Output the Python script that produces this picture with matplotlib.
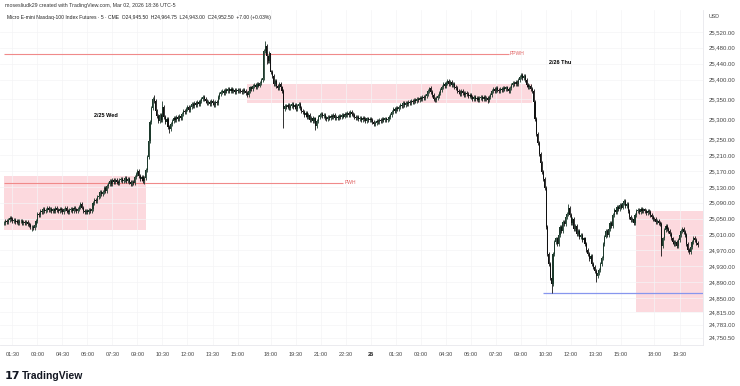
import numpy as np
import pandas as pd
import matplotlib
matplotlib.use("Agg")
import matplotlib.pyplot as plt

plt.rcParams['font.family'] = ['Liberation Sans', 'DejaVu Sans']

# ---- data: MNQ 5 min closes, one row per hour -------------------------------
# session 1: 2/25 01:00 - 16:55
closes_s1 = [
    25040, 25043, 25041, 25046, 25051, 25048, 25044, 25046, 25042, 25045, 25040, 25043,
    25044, 25039, 25042, 25038, 25041, 25036, 25033, 25028, 25030, 25026, 25034, 25045,
    25062, 25058, 25070, 25066, 25074, 25069, 25072, 25078, 25071, 25075, 25068, 25073,
    25070, 25077, 25072, 25068, 25074, 25071, 25066, 25073, 25076, 25070, 25067, 25072,
    25074, 25070, 25076, 25073, 25069, 25075, 25080, 25088, 25078, 25070, 25067, 25069,
    25066, 25071, 25068, 25074, 25090, 25098, 25094, 25104, 25108, 25116, 25111, 25118,
    25126, 25120, 25132, 25138, 25144, 25137, 25146, 25141, 25148, 25143, 25139, 25147,
    25150, 25144, 25148, 25152, 25145, 25149, 25141, 25137, 25143, 25139, 25155, 25163,
    25170, 25158, 25150, 25156, 25145, 25152, 25172, 25205, 25245, 25292, 25328, 25350,
    25345, 25322, 25308, 25296, 25312, 25298, 25330, 25306, 25292, 25300, 25280, 25276,
    25288, 25296, 25304, 25298, 25306, 25301, 25309, 25304, 25314, 25322, 25318, 25326,
    25330, 25324, 25332, 25338, 25334, 25340, 25336, 25343, 25339, 25346, 25350, 25355,
    25350, 25346, 25341, 25344, 25339, 25345, 25342, 25337, 25343, 25340, 25356, 25364,
    25368, 25372, 25366, 25374, 25370, 25376, 25372, 25375, 25371, 25374, 25369, 25373,
    25370, 25374, 25371, 25368, 25373, 25370, 25366, 25360, 25372, 25380, 25376, 25384,
    25386, 25381, 25390, 25385, 25392, 25398, 25404, 25472, 25484, 25458, 25447, 25466,
]
# session 2: 2/25 18:00 - 2/26 16:55
closes_s2 = [
    25420, 25408, 25390, 25396, 25384, 25378, 25388, 25380, 25372, 25326, 25334, 25330,
    25336, 25328, 25333, 25339, 25331, 25335, 25327, 25334, 25338, 25329, 25322, 25318,
    25312, 25316, 25305, 25310, 25298, 25304, 25296, 25302, 25284, 25296, 25305, 25310,
    25314, 25308, 25312, 25304, 25300, 25306, 25302, 25308, 25305, 25310, 25304, 25307,
    25303, 25309, 25305, 25311, 25307, 25313, 25310, 25316, 25312, 25319, 25314, 25310,
    25306, 25302, 25307, 25300, 25304, 25298, 25303, 25300, 25296, 25302, 25299, 25301,
    25297, 25293, 25288, 25291, 25296, 25293, 25298, 25295, 25300, 25297, 25302, 25299,
    25301, 25305, 25310, 25318, 25326, 25322, 25329, 25325, 25331, 25336, 25333, 25340,
    25336, 25342, 25338, 25344, 25341, 25346, 25343, 25349, 25345, 25352, 25348, 25354,
    25350, 25356, 25353, 25358, 25364, 25372, 25378, 25368, 25360, 25352, 25348, 25354,
    25358, 25366, 25374, 25382, 25388, 25384, 25392, 25396, 25389, 25393, 25386, 25390,
    25382, 25378, 25372, 25368, 25364, 25370, 25366, 25362, 25367, 25364, 25359, 25362,
    25356, 25352, 25357, 25350, 25354, 25349, 25353, 25357, 25351, 25355, 25350, 25354,
    25348, 25356, 25362, 25370, 25376, 25372, 25378, 25374, 25370, 25377, 25373, 25379,
    25375, 25380, 25376, 25372, 25378, 25386, 25392, 25389, 25394, 25390, 25398, 25406,
    25412, 25404, 25409, 25398, 25386, 25380, 25384, 25375, 25370, 25344, 25300, 25262,
    25240, 25212, 25190, 25168, 25150, 25128, 25030, 24962, 24935, 24900, 24885, 24962,
    24990, 25000, 24985, 25010, 25028, 25020, 25042, 25036, 25055, 25062, 25078, 25060,
    25040, 25048, 25025, 25032, 25012, 25020, 25004, 25010, 24995, 25000, 24985, 24970,
    24960, 24948, 24955, 24935, 24928, 24918, 24905, 24912, 24920, 24935, 24950, 24985,
    25005, 25018, 25010, 25025, 25040, 25032, 25060, 25072, 25066, 25080, 25074, 25085,
    25078, 25090, 25094, 25082, 25088, 25070, 25055, 25046, 25050, 25040, 25058, 25068,
    25072, 25066, 25074, 25068, 25073, 25070, 25064, 25070, 25066, 25060, 25054, 25050,
]
# session 3: 2/26 18:00 - 20:35
closes_s3 = [
    25048, 25042, 25045, 25040, 25036, 24980, 25000, 25022, 25032, 25024, 25018, 25012,
    25000, 24992, 24985, 24990, 24982, 24996, 25008, 25020, 25024, 25016, 25010, 24985,
    24972, 24965, 24978, 24990, 25002, 24996, 24988, 24984,
]
first_open = 25038
wick = 5   # typical wick beyond the body, points

spike_high = {"2026-02-25 10:00": 25360, "2026-02-25 10:30": 25345,
              "2026-02-25 16:40": 25496, "2026-02-25 18:00": 25425,
              "2026-02-26 03:30": 25382, "2026-02-26 09:05": 25416,
              "2026-02-26 11:50": 25088, "2026-02-26 15:10": 25100}
spike_low = {"2026-02-25 02:40": 25020, "2026-02-25 09:25": 25136,
             "2026-02-25 10:55": 25265, "2026-02-25 16:45": 25440,
             "2026-02-25 18:45": 25278, "2026-02-25 20:40": 25273,
             "2026-02-26 07:00": 25340, "2026-02-26 10:50": 24864,
             "2026-02-26 13:30": 24891, "2026-02-26 18:25": 24955}

# levels and zones
ppwh, pwh, low_line = 25465, 25140, 24863
zones = [("2026-02-25 01:00", "2026-02-25 09:30", 25022, 25158),
         ("2026-02-25 15:35", "2026-02-26 09:40", 25341, 25389),
         ("2026-02-26 15:55", None, 24816, 25070)]

price_ticks = [25520, 25480, 25440, 25400, 25350, 25300, 25250, 25210, 25170, 25130,
               25090, 25050, 25010, 24970, 24930, 24890, 24850, 24815, 24783, 24750.5]
tick_times = ["2026-02-25 01:30", "2026-02-25 03:00", "2026-02-25 04:30", "2026-02-25 06:00",
              "2026-02-25 07:30", "2026-02-25 09:00", "2026-02-25 10:30", "2026-02-25 12:00",
              "2026-02-25 13:30", "2026-02-25 15:00", "2026-02-25 18:00", "2026-02-25 19:30",
              "2026-02-25 21:00", "2026-02-25 22:30", "2026-02-26 00:00", "2026-02-26 01:30",
              "2026-02-26 03:00", "2026-02-26 04:30", "2026-02-26 06:00", "2026-02-26 07:30",
              "2026-02-26 09:00", "2026-02-26 10:30", "2026-02-26 12:00", "2026-02-26 13:30",
              "2026-02-26 15:00", "2026-02-26 18:00", "2026-02-26 19:30"]

# ---- build OHLC -------------------------------------------------------------
times = pd.DatetimeIndex(
    list(pd.date_range("2026-02-25 01:00", "2026-02-25 16:55", freq="5min")) +
    list(pd.date_range("2026-02-25 18:00", "2026-02-26 16:55", freq="5min")) +
    list(pd.date_range("2026-02-26 18:00", "2026-02-26 20:35", freq="5min")))
closes = np.array(closes_s1 + closes_s2 + closes_s3, dtype=float)
opens = np.r_[first_open, closes[:-1]]
highs = np.maximum(opens, closes) + wick
lows = np.minimum(opens, closes) - wick
for t, v in spike_high.items():
    highs[times.get_loc(pd.Timestamp(t))] = v
for t, v in spike_low.items():
    lows[times.get_loc(pd.Timestamp(t))] = v
xs = np.arange(len(times))


def pos(t):
    return times.searchsorted(pd.Timestamp(t))


# ---- plot ------------------------------------------------------------------
fig = plt.figure(figsize=(7.4, 3.86), dpi=100)
ax = fig.add_axes([0.0, 41 / 386, 703 / 740, 335 / 386])
xmin, xmax = -2.9, 502.9
ymin, ymax = 24732, 25575

for t0, t1, lo, hi in zones:
    x0 = pos(t0)
    x1 = xmax if t1 is None else pos(t1)
    ax.fill_between([x0, x1], lo, hi, color="#fcd9de", lw=0, zorder=1)

ax.hlines(ppwh, 0, pos("2026-02-26 08:15"), color="#f08a8a", lw=0.8, zorder=2)
ax.text(pos("2026-02-26 08:20"), ppwh, "PPWH", color="#e06060", fontsize=3.6,
        va="center", ha="left", zorder=3)
ax.hlines(pwh, 0, pos("2026-02-25 22:20"), color="#f08a8a", lw=0.8, zorder=2)
ax.text(pos("2026-02-25 22:25"), pwh, "PWH", color="#e06060", fontsize=3.6,
        va="center", ha="left", zorder=3)
ax.hlines(low_line, pos("2026-02-26 10:20"), xmax, color="#8796ee", lw=0.9, zorder=2)

up = closes >= opens
col = np.where(up, "#1d3a2c", "#111111")
ax.vlines(xs, lows, highs, colors=col, lw=0.6, zorder=4)
body = np.maximum(np.abs(closes - opens), 1.0)
ax.bar(xs, body, bottom=np.minimum(opens, closes), width=0.78, color=col,
       lw=0, zorder=5)

ax.text(pos("2026-02-25 06:25"), 25309, "2/25 Wed", fontsize=4, fontweight="bold",
        va="center", ha="left")
ax.text(pos("2026-02-26 10:40"), 25442, "2/26 Thu", fontsize=4, fontweight="bold",
        va="center", ha="left")

ax.set_xlim(xmin, xmax)
ax.set_ylim(ymin, ymax)
ax.yaxis.tick_right()
ax.set_yticks(price_ticks)
ax.set_yticklabels([f"{v:,.2f}" for v in price_ticks], fontsize=4.3, color="#444444")
ax.set_xticks([pos(t) for t in tick_times])
xl = []
for t in tick_times:
    ts = pd.Timestamp(t)
    xl.append(str(ts.day) if ts.hour == 0 and ts.minute == 0 else ts.strftime("%H:%M"))
ax.set_xticklabels(xl, fontsize=4.1, color="#444444")
for lab in ax.get_xticklabels():
    if ":" not in lab.get_text():
        lab.set_fontweight("bold")
        lab.set_color("#222222")
ax.tick_params(length=0, pad=5)
ax.tick_params(axis="y", pad=4)
ax.grid(True, color="#f4f4f6", lw=0.5, zorder=0)
for s in ["top", "left"]:
    ax.spines[s].set_visible(False)
ax.spines["right"].set_color("#e8e8ec")
ax.spines["bottom"].set_color("#e8e8ec")
ax.spines["right"].set_linewidth(0.6)
ax.spines["bottom"].set_linewidth(0.6)

fig.text(5 / 740, 1 - 5 / 386, "mosesliudk29 created with TradingView.com, Mar 02, 2026 18:36 UTC-5",
         fontsize=3.8, color="#333333", va="center")
fig.text(7 / 740, 1 - 17 / 386,
         "Micro E-mini Nasdaq-100 Index Futures \u00b7 5 \u00b7 CME  O24,945.50  H24,964.75  "
         "L24,943.00  C24,952.50  +7.00 (+0.03%)",
         fontsize=3.6, color="#222222", va="center")
fig.text(709 / 740, 1 - 17 / 386, "USD", fontsize=3.8, color="#444444", va="center")
fig.text(5 / 740, 1 - 376 / 386, "17", fontsize=8, fontweight="heavy", color="#131722",
         va="center", family="DejaVu Sans")
fig.text(22 / 740, 1 - 376 / 386, "TradingView", fontsize=7.5, fontweight="bold",
         color="#131722", va="center")

fig.savefig("out.png", dpi=100)
